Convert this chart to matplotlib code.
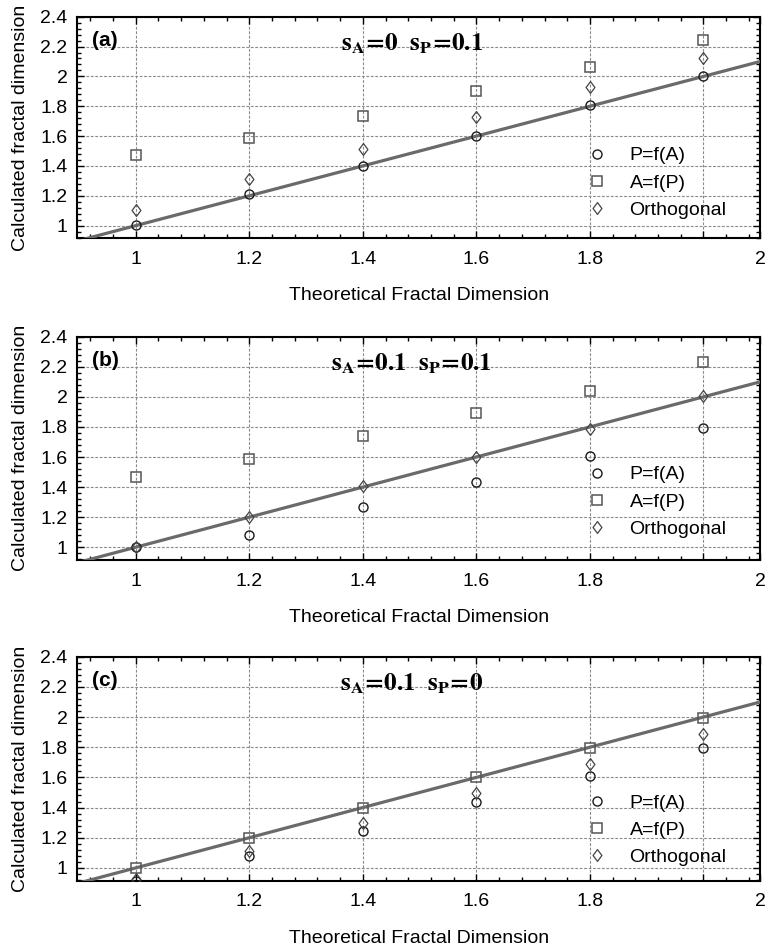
import matplotlib
matplotlib.use("Agg")
import matplotlib.pyplot as plt
from matplotlib.ticker import MultipleLocator
from matplotlib.lines import Line2D
from matplotlib.path import Path

plt.rcParams['font.family'] = ['Liberation Sans', 'DejaVu Sans']
plt.rcParams['mathtext.fontset'] = 'stix'

# ---------------- data ----------------
theoretical = [1.0, 1.2, 1.4, 1.6, 1.8, 2.0]

a_pfa = [1.007, 1.212, 1.401, 1.602, 1.805, 2.006]
a_afp = [1.471, 1.587, 1.734, 1.901, 2.066, 2.242]
a_orth = [1.105, 1.312, 1.515, 1.725, 1.926, 2.126]

b_pfa = [1.0, 1.078, 1.270, 1.437, 1.604, 1.796]
b_afp = [1.464, 1.587, 1.742, 1.892, 2.041, 2.233]
b_orth = [1.0, 1.200, 1.408, 1.602, 1.787, 2.005]

c_pfa = [0.91, 1.076, 1.247, 1.435, 1.611, 1.794]
c_afp = [1.0, 1.200, 1.400, 1.603, 1.795, 1.997]
c_orth = [0.925, 1.111, 1.297, 1.497, 1.687, 1.888]

ref_line = [0.897, 2.1]   # identity line y = x

panel_tags = ["(a)", "(b)", "(c)"]
panel_titles = [r"$\mathbf{s_A\!=\!0\ \ s_P\!=\!0.1}$",
                r"$\mathbf{s_A\!=\!0.1\ \ s_P\!=\!0.1}$",
                r"$\mathbf{s_A\!=\!0.1\ \ s_P\!=\!0}$"]
series_labels = ["P=f(A)", "A=f(P)", "Orthogonal"]

x_ticks = [1.0, 1.2, 1.4, 1.6, 1.8, 2.0, 2.1]
x_tick_labels = ["1", "1.2", "1.4", "1.6", "1.8", "", "2"]
y_ticks = [1.0, 1.2, 1.4, 1.6, 1.8, 2.0, 2.2, 2.4]
y_tick_labels = ["1", "1.2", "1.4", "1.6", "1.8", "2", "2.2", "2.4"]

xlabel = "Theoretical Fractal Dimension"
ylabel = "Calculated fractal dimension"

panels = [(a_pfa, a_afp, a_orth), (b_pfa, b_afp, b_orth), (c_pfa, c_afp, c_orth)]

# diamond marker slightly taller than wide
diamond = Path([(0, 1), (0.75, 0), (0, -1), (-0.75, 0), (0, 1)],
               [Path.MOVETO, Path.LINETO, Path.LINETO, Path.LINETO, Path.CLOSEPOLY])

styles = [
    dict(marker='o', markersize=6.5, markerfacecolor='none', markeredgecolor='#1a1a1a',
         markeredgewidth=1.0),
    dict(marker='s', markersize=7.5, markerfacecolor='none', markeredgecolor='#555555',
         markeredgewidth=1.1),
    dict(marker=diamond, markersize=8.5, markerfacecolor='none', markeredgecolor='#444444',
         markeredgewidth=0.9),
]

# ---------------- layout ----------------
W, H = 766, 948
fig = plt.figure(figsize=(W / 100, H / 100), dpi=100)
ax_left = 77.3 / W
ax_width = 683 / W
tops = [16.7, 336.7, 656.7]
heights = [221.6, 223.3, 224.0]
legend_y = [0.25, 0.26, 0.226]

FS = 14

for i, series in enumerate(panels):
    top, h = tops[i], heights[i]
    ax = fig.add_axes([ax_left, 1 - (top + h) / H, ax_width, h / H])
    ax.set_xlim(0.897, 2.1001)
    ax.set_ylim(0.915, 2.4001)

    ax.grid(True, which='major', color='#8a8a8a', linestyle=(0, (2.5, 1.5)), linewidth=0.8)
    ax.set_axisbelow(True)

    ax.plot(ref_line, ref_line, color='#6a6a6a', linewidth=2.3, zorder=3)

    for vals, st in zip(series, styles):
        ax.plot(theoretical, vals, linestyle='none', zorder=4, **st)

    ax.set_xticks(x_ticks)
    ax.set_xticklabels(x_tick_labels)
    ax.set_yticks(y_ticks)
    ax.set_yticklabels(y_tick_labels)
    ax.xaxis.set_minor_locator(MultipleLocator(0.04))
    ax.yaxis.set_minor_locator(MultipleLocator(0.04))
    ax.tick_params(which='both', direction='in', top=True, right=True,
                   color='black', labelsize=FS)
    ax.tick_params(which='major', length=5, width=1.0)
    ax.tick_params(which='minor', length=3, width=1.0)
    ax.tick_params(axis='x', which='major', pad=9)
    ax.tick_params(axis='y', which='major', pad=7)
    for s in ax.spines.values():
        s.set_linewidth(1.5)
        s.set_color('black')

    ax.set_xlabel(xlabel, fontsize=FS, labelpad=14)
    ax.set_ylabel(ylabel, fontsize=FS, labelpad=8)

    ax.text(0.021, 0.893, panel_tags[i], transform=ax.transAxes, fontsize=15,
            fontweight='bold', ha='left', va='center')
    ax.text(0.49, 0.88, panel_titles[i], transform=ax.transAxes, fontsize=18,
            ha='center', va='center')

    handles = [Line2D([], [], linestyle='none', **st) for st in styles]
    ax.legend(handles, series_labels, loc='center left', bbox_to_anchor=(0.746, legend_y[i]),
              frameon=False, fontsize=FS, handlelength=1.0, handletextpad=1.2,
              labelspacing=0.5, borderpad=0, borderaxespad=0)

fig.savefig("out.png", dpi=100)
